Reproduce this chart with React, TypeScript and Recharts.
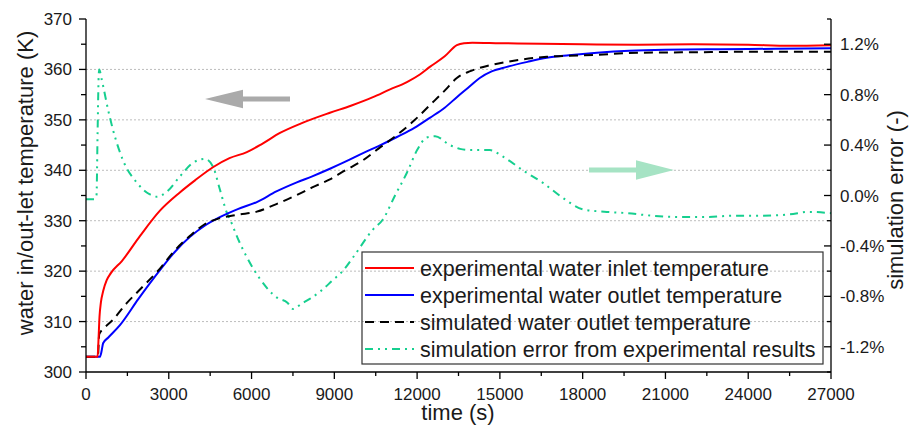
import { LineChart, Line, XAxis, YAxis, ReferenceLine } from "recharts";

// experimental water inlet temperature (K)
const inletTime = [0, 420, 450, 490, 540, 620, 750, 900, 1300, 1960, 2680, 3400, 3950, 4600, 5200, 5830, 6400, 7030, 7800, 8840, 9600, 10400, 11000, 11630, 12100, 12460, 13000, 13440, 13700, 14000, 15000, 16500, 18000, 20000, 22000, 24000, 25500, 27000];
const inletTemp = [303, 303, 306, 311, 313.8, 316, 318.2, 319.6, 322, 327, 332, 335.6, 338, 340.6, 342.4, 343.6, 345.3, 347.4, 349.3, 351.4, 352.8, 354.5, 356, 357.5, 359, 360.5, 362.6, 364.8, 365.2, 365.3, 365.2, 365.1, 365, 364.9, 365, 364.9, 364.7, 364.8];

// experimental water outlet temperature (K)
const outletTime = [0, 500, 560, 620, 800, 1230, 1900, 2680, 3200, 3770, 4300, 4850, 5500, 6190, 6900, 7640, 8200, 8840, 9400, 10040, 10600, 11270, 11900, 12460, 13000, 13440, 13900, 14270, 14700, 15250, 16000, 16700, 17500, 18520, 19700, 21000, 23000, 25000, 27000];
const outletTemp = [303, 303, 304, 305.7, 306.8, 309.3, 314.5, 320.2, 323.7, 326.8, 329, 330.7, 332.3, 333.7, 335.8, 337.6, 338.8, 340.3, 341.7, 343.4, 344.8, 346.6, 348.4, 350.4, 352.4, 354.5, 356.6, 358.3, 359.6, 360.5, 361.5, 362.3, 362.8, 363.3, 363.7, 363.9, 364, 364.1, 364.2];

// simulated water outlet temperature (K)
const simTime = [0, 430, 480, 620, 950, 1500, 2000, 2680, 3200, 3770, 4300, 4850, 5500, 6190, 6900, 7640, 8200, 8840, 9400, 10040, 10600, 11270, 11900, 12460, 13000, 13440, 13900, 14270, 15250, 16700, 18520, 20000, 22000, 24000, 27000];
const simTemp = [303, 303, 307.5, 308.5, 310.2, 313.8, 316.6, 320.5, 324, 327, 329.3, 330.5, 331.2, 331.8, 333.3, 335.1, 336.6, 338.2, 340, 342, 344.3, 347, 349.9, 352.9, 355.8, 358.3, 359.6, 360.3, 361.5, 362.5, 362.9, 363.3, 363.4, 363.5, 363.5];

// simulation error from experimental results (%)
const errorTime = [0, 300, 380, 420, 460, 480, 560, 620, 800, 980, 1340, 1850, 2300, 2570, 2930, 3400, 3880, 4310, 4600, 4850, 5110, 5220, 5500, 5830, 6300, 6920, 7300, 7500, 7800, 8110, 8500, 8950, 9300, 9680, 10400, 10760, 11200, 11630, 12000, 12350, 12650, 13190, 13550, 13910, 14640, 15100, 15830, 16560, 17290, 18010, 18880, 19610, 20500, 21500, 22500, 23500, 24500, 25500, 26200, 27000];
const errorPct = [-0.03, -0.03, 0, 0.5, 0.95, 1.0, 0.93, 0.87, 0.68, 0.52, 0.28, 0.1, 0.01, -0.01, 0.03, 0.15, 0.26, 0.29, 0.23, 0.05, -0.14, -0.19, -0.34, -0.49, -0.66, -0.81, -0.85, -0.9, -0.86, -0.82, -0.76, -0.67, -0.6, -0.49, -0.27, -0.19, 0, 0.18, 0.36, 0.46, 0.47, 0.4, 0.37, 0.36, 0.36, 0.31, 0.2, 0.1, -0.02, -0.11, -0.13, -0.14, -0.16, -0.17, -0.17, -0.16, -0.16, -0.15, -0.13, -0.14];

const timeTicks = [0, 1500, 3000, 4500, 6000, 7500, 9000, 10500, 12000, 13500, 15000, 16500, 18000, 19500, 21000, 22500, 24000, 25500, 27000];
const tempTicks = [300, 305, 310, 315, 320, 325, 330, 335, 340, 345, 350, 355, 360, 365, 370];
const errorTicks = [-1.4, -1.2, -1, -0.8, -0.6, -0.4, -0.2, 0, 0.2, 0.4, 0.6, 0.8, 1, 1.2, 1.4];
const gridTemps = [310, 320, 330, 340, 350, 360];

const zip = (ts: number[], vs: number[]) => ts.map((t, i) => ({ t, v: vs[i] }));
const inletData = zip(inletTime, inletTemp);
const outletData = zip(outletTime, outletTemp);
const simData = zip(simTime, simTemp);
const errorData = zip(errorTime, errorPct);

const FONT = "'Liberation Sans', Arial, sans-serif";
const INK = "#1a1a1a";
const RED = "#ff0000";
const BLUE = "#0000ff";
const GREEN = "#16cf8f";
const DASH_SIM = "9 6";
const DASH_ERR = "8 5 2 5 2 5";

function TimeTick(props: any) {
  const { x, y, payload } = props;
  const major = payload.value % 3000 === 0;
  return (
    <g>
      <line x1={x} x2={x} y1={y} y2={y + (major ? 7 : 4)} stroke="#000" strokeWidth={1.3} />
      {major && (
        <text x={x} y={y + 28} textAnchor="middle" fontSize={17} fontFamily={FONT} fill={INK}>
          {payload.value}
        </text>
      )}
    </g>
  );
}

function TempTick(props: any) {
  const { x, y, payload } = props;
  const major = payload.value % 10 === 0;
  return (
    <g>
      <line x1={x - (major ? 7 : 5)} x2={x} y1={y} y2={y} stroke="#000" strokeWidth={1.3} />
      {major && (
        <text x={x - 14} y={y + 6} textAnchor="end" fontSize={17} fontFamily={FONT} fill={INK}>
          {payload.value}
        </text>
      )}
    </g>
  );
}

function ErrorTick(props: any) {
  const { x, y, payload } = props;
  const major = Math.round(payload.value * 10) % 4 === 0;
  return (
    <g>
      <line x1={x - (major ? 7 : 4)} x2={x} y1={y} y2={y} stroke="#000" strokeWidth={1.3} />
      {major && (
        <text x={x + 9} y={y + 6} textAnchor="start" fontSize={17} fontFamily={FONT} fill={INK}>
          {`${payload.value.toFixed(1)}%`}
        </text>
      )}
    </g>
  );
}

const legendItems = [
  { label: "experimental water inlet temperature", color: RED, dash: undefined },
  { label: "experimental water outlet temperature", color: BLUE, dash: undefined },
  { label: "simulated water outlet temperature", color: "#000", dash: DASH_SIM },
  { label: "simulation error from experimental results", color: GREEN, dash: DASH_ERR },
];

function Overlay() {
  return (
    <svg width={910} height={428} style={{ position: "absolute", left: 0, top: 0, pointerEvents: "none" }}>
      {/* axis titles */}
      <text x={33} y={183} transform="rotate(-90 33 183)" textAnchor="middle" fontSize={22} fontFamily={FONT} fill={INK}>
        water in/out-let temperature (K)
      </text>
      <text x={903} y={200} transform="rotate(-90 903 200)" textAnchor="middle" fontSize={22} fontFamily={FONT} fill={INK}>
        simulation error (-)
      </text>
      <text x={458} y={420} textAnchor="middle" fontSize={22} fontFamily={FONT} fill={INK}>
        time (s)
      </text>

      {/* arrows */}
      <polygon points="205,99 243,89.7 243,96.5 290,96.5 290,101.5 243,101.5 243,108.3" fill="#aaaaaa" />
      <polygon points="674,170 636,160.3 636,167.5 589,167.5 589,172.5 636,172.5 636,179.7" fill="#a6e3c4" />

      {/* legend */}
      <rect x={362} y={252} width={461} height={112} fill="none" stroke="#333" strokeWidth={1.2} />
      {legendItems.map((d, i) => {
        const cy = 268 + i * 27;
        return (
          <g key={d.label}>
            <line x1={365} x2={414} y1={cy} y2={cy} stroke={d.color} strokeWidth={2} strokeDasharray={d.dash} />
            <text x={420} y={cy + 7.5} fontSize={21.5} fontFamily={FONT} fill={INK}>
              {d.label}
            </text>
          </g>
        );
      })}
    </svg>
  );
}

export default function App() {
  return (
    <div style={{ position: "absolute", left: 0, top: 0, width: 910, height: 428, background: "#fff" }}>
      <LineChart width={910} height={428} margin={{ top: 19, right: 0, bottom: 0, left: 0 }}>
        <XAxis
          xAxisId="t"
          dataKey="t"
          type="number"
          domain={[0, 27000]}
          ticks={timeTicks}
          interval={0}
          height={56}
          tickSize={0}
          tickMargin={0}
          tickLine={false}
          tick={TimeTick}
          axisLine={{ stroke: "#000", strokeWidth: 1.3 }}
          allowDuplicatedCategory={false}
        />
        <YAxis
          yAxisId="temp"
          type="number"
          domain={[300, 370]}
          ticks={tempTicks}
          interval={0}
          width={86}
          tickSize={0}
          tickMargin={0}
          tickLine={false}
          tick={TempTick}
          axisLine={{ stroke: "#000", strokeWidth: 1.3 }}
        />
        <YAxis
          yAxisId="err"
          orientation="right"
          type="number"
          domain={[-1.4, 1.4]}
          ticks={errorTicks}
          interval={0}
          width={79}
          tickSize={0}
          tickMargin={0}
          tickLine={false}
          tick={ErrorTick}
          axisLine={{ stroke: "#000", strokeWidth: 1.3 }}
        />
        {gridTemps.map((v) => (
          <ReferenceLine key={v} xAxisId="t" yAxisId="temp" y={v} stroke="#bdbdbd" strokeDasharray="2 2" strokeWidth={1} />
        ))}
        <Line xAxisId="t" yAxisId="err" data={errorData} dataKey="v" type="monotone" stroke={GREEN} strokeWidth={2} strokeDasharray={DASH_ERR} dot={false} isAnimationActive={false} />
        <Line xAxisId="t" yAxisId="temp" data={outletData} dataKey="v" type="monotone" stroke={BLUE} strokeWidth={2} dot={false} isAnimationActive={false} />
        <Line xAxisId="t" yAxisId="temp" data={simData} dataKey="v" type="monotone" stroke="#000" strokeWidth={2} strokeDasharray={DASH_SIM} dot={false} isAnimationActive={false} />
        <Line xAxisId="t" yAxisId="temp" data={inletData} dataKey="v" type="monotone" stroke={RED} strokeWidth={2} dot={false} isAnimationActive={false} />
      </LineChart>
      <Overlay />
    </div>
  );
}
